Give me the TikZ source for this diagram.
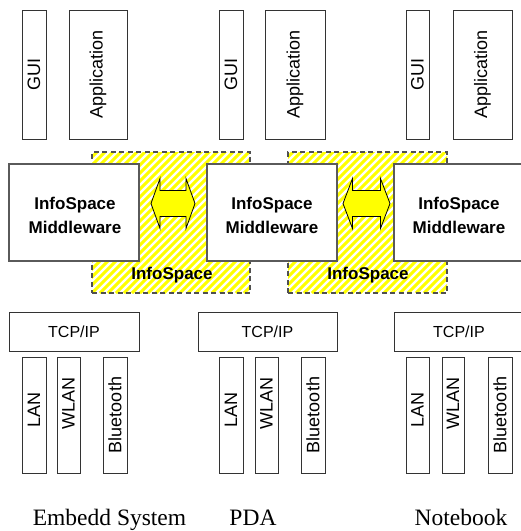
\documentclass[tikz,border=0pt]{standalone}
\usepackage{fontspec}
\setmainfont{Liberation Serif}
\setsansfont{Liberation Sans}
\usetikzlibrary{calc}
\definecolor{hatchyellow}{RGB}{255,255,0}
\definecolor{boxgray}{RGB}{90,90,90}
\definecolor{dashgray}{RGB}{80,80,80}
\begin{document}
\begin{tikzpicture}[x=1pt,y=-1pt,
  smallbox/.style={draw=black!80, line width=0.9pt, fill=white, inner sep=0pt, font=\sffamily\fontsize{18}{20}\selectfont},
  mwbox/.style={draw=boxgray, line width=1.5pt, fill=white, inner sep=0pt},
  mwtext/.style={inner sep=0pt, align=center, font=\sffamily\bfseries\fontsize{17}{24}\selectfont},
  tcpbox/.style={draw=black!80, line width=0.9pt, fill=white, inner sep=0pt, font=\sffamily\fontsize{16}{18}\selectfont},
  hatchregion/.style={draw=dashgray, line width=1.1pt, dash pattern=on 5pt off 3.5pt, inner sep=0pt,
    path picture={\foreach \i in {-200,-192,...,200}
      \draw[hatchyellow, solid, line width=2.9pt] ($(path picture bounding box.south west)+(\i pt,0pt)$) -- ++(180pt,180pt);}},
  dblarrow/.style={draw=black, line width=0.8pt, fill=hatchyellow, line join=miter},
  islabel/.style={font=\sffamily\bfseries\fontsize{17}{20}\selectfont, inner sep=0pt},
  devlabel/.style={font=\fontsize{23.5}{26}\selectfont, inner sep=0pt, anchor=base}
]
\useasboundingbox (0,0) rectangle (521,531);
\fill[white] (0,0) rectangle (521,531);

% InfoSpace regions
\node[hatchregion, minimum width=158, minimum height=141] (is1) at (171,222.5) {};
\node[hatchregion, minimum width=159, minimum height=141] (is2) at (367.5,222.5) {};
\node[islabel] (isl1) at (172,275) {InfoSpace};
\node[islabel] (isl2) at (368,275) {InfoSpace};

% top row
\node[smallbox, minimum width=24, minimum height=129] (gui1) at (34,74.5) {\rotatebox{90}{GUI}};
\node[smallbox, minimum width=58, minimum height=129] (app1) at (98,74.5) {\rotatebox{90}{Application}};
\node[smallbox, minimum width=24, minimum height=129] (gui2) at (231,74.5) {\rotatebox{90}{GUI}};
\node[smallbox, minimum width=60, minimum height=129] (app2) at (295,74.5) {\rotatebox{90}{Application}};
\node[smallbox, minimum width=23, minimum height=129] (gui3) at (417.5,74.5) {\rotatebox{90}{GUI}};
\node[smallbox, minimum width=59, minimum height=129] (app3) at (482.5,74.5) {\rotatebox{90}{Application}};

% middleware
\node[mwbox, minimum width=130, minimum height=97] (mw1) at (74,212.5) {};
\node[mwbox, minimum width=130, minimum height=97] (mw2) at (272,212.5) {};
\node[mwbox, minimum width=140, minimum height=97] (mw3) at (464,212.5) {};
\node[mwtext] (mw1t) at (75,215.5) {InfoSpace\\Middleware};
\node[mwtext] (mw2t) at (272,215.5) {InfoSpace\\Middleware};
\node[mwtext] (mw3t) at (459,215.5) {InfoSpace\\Middleware};

% arrows
\coordinate (a1) at (173,203.5);
\draw[dblarrow] ($(a1)+(-22,0)$) -- ($(a1)+(-13,-25)$) -- ($(a1)+(-13,-13)$) -- ($(a1)+(13,-13)$) -- ($(a1)+(13,-25)$)
  -- ($(a1)+(22,0)$) -- ($(a1)+(13,25)$) -- ($(a1)+(13,13)$) -- ($(a1)+(-13,13)$) -- ($(a1)+(-13,25)$) -- cycle;
\coordinate (a2) at (366.5,203.5);
\draw[dblarrow] ($(a2)+(-23.5,0)$) -- ($(a2)+(-14,-25)$) -- ($(a2)+(-14,-13)$) -- ($(a2)+(14,-13)$) -- ($(a2)+(14,-25)$)
  -- ($(a2)+(23.5,0)$) -- ($(a2)+(14,25)$) -- ($(a2)+(14,13)$) -- ($(a2)+(-14,13)$) -- ($(a2)+(-14,25)$) -- cycle;

% TCP/IP
\node[tcpbox, minimum width=130, minimum height=39] (tcp1) at (74,331.5) {TCP/IP};
\node[tcpbox, minimum width=139, minimum height=39] (tcp2) at (267.5,331.5) {TCP/IP};
\node[tcpbox, minimum width=140, minimum height=39] (tcp3) at (464,331.5) {};
\node[tcpbox, draw=none, fill=none] (tcp3t) at (459,331.5) {TCP/IP};

% network boxes
\node[smallbox, minimum width=24, minimum height=116] (lan1) at (34,415) {\rotatebox{90}{\hspace{10pt}LAN}};
\node[smallbox, minimum width=23, minimum height=116] (wlan1) at (68.5,415) {\rotatebox{90}{\hspace{24pt}WLAN}};
\node[smallbox, minimum width=24, minimum height=116] (bt1) at (115,415) {\rotatebox{90}{Bluetooth}};
\node[smallbox, minimum width=24, minimum height=116] (lan2) at (231,415) {\rotatebox{90}{\hspace{10pt}LAN}};
\node[smallbox, minimum width=23, minimum height=116] (wlan2) at (266.5,415) {\rotatebox{90}{\hspace{24pt}WLAN}};
\node[smallbox, minimum width=24, minimum height=116] (bt2) at (313,415) {\rotatebox{90}{Bluetooth}};
\node[smallbox, minimum width=23, minimum height=116] (lan3) at (417.5,415) {\rotatebox{90}{\hspace{10pt}LAN}};
\node[smallbox, minimum width=22, minimum height=116] (wlan3) at (453,415) {\rotatebox{90}{\hspace{24pt}WLAN}};
\node[smallbox, minimum width=24, minimum height=116] (bt3) at (500,415) {\rotatebox{90}{Bluetooth}};

% device labels
\node[devlabel] (dev1) at (109.5,525) {Embedd System};
\node[devlabel] (dev2) at (253,525) {PDA};
\node[devlabel] (dev3) at (461,525) {Notebook};
\end{tikzpicture}
\end{document}
